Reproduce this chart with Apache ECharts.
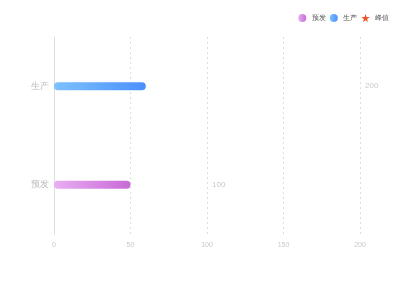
<!DOCTYPE html>
<html><head><meta charset="utf-8">
<script src="https://cdn.jsdelivr.net/npm/echarts@6/dist/echarts.min.js"></script>
<style>html,body{margin:0;padding:0;background:#fff}#c{width:400px;height:300px}</style>
</head><body><div id="c"></div>
<script>
var categories = ['预发', '生产'];
var preValues = [50, '-'];
var prodValues = ['-', 60];
var peakValues = [100, 200];
var xTicks = [0, 50, 100, 150, 200];

var chart = echarts.init(document.getElementById('c'), null, {renderer: 'canvas'});
var star = 'path://M50,0 L61,35 L98,35 L68,57 L79,91 L50,70 L21,91 L32,57 L2,35 L39,35 Z';
chart.setOption({
  animation: false,
  legend: {
    right: 6, top: 9, itemWidth: 9, itemHeight: 8, itemGap: 4,
    textStyle: {fontSize: 7, color: '#555'},
    data: [
      {name: '预发', icon: 'circle'},
      {name: '生产', icon: 'circle'},
      {name: '峰值', icon: star, itemStyle: {color: '#f0522a'}}
    ]
  },
  grid: {left: 54, right: 40, top: 37, bottom: 66},
  xAxis: {
    type: 'value', min: xTicks[0], max: xTicks[xTicks.length - 1], interval: 50,
    axisLine: {show: false}, axisTick: {show: false},
    axisLabel: {fontSize: 7, color: '#c8c8c8', margin: 8},
    splitLine: {show: true, lineStyle: {type: [2, 3], color: '#ddd'}}
  },
  yAxis: {
    type: 'category', data: categories,
    axisLine: {show: true, lineStyle: {color: '#ddd'}},
    axisTick: {show: false},
    axisLabel: {fontSize: 9, color: '#bbb', margin: 5}
  },
  series: [
    {
      name: '预发', type: 'bar', data: preValues, barWidth: 8, barGap: '-100%',
      itemStyle: {
        borderRadius: 4,
        color: new echarts.graphic.LinearGradient(0, 0, 1, 0, [
          {offset: 0, color: '#e9aef2'}, {offset: 1, color: '#c86ad6'}])
      }
    },
    {
      name: '生产', type: 'bar', data: prodValues, barWidth: 8, barGap: '-100%',
      itemStyle: {
        borderRadius: 4,
        color: new echarts.graphic.LinearGradient(0, 0, 1, 0, [
          {offset: 0, color: '#7cc2ff'}, {offset: 1, color: '#4b8ffd'}])
      }
    },
    {
      name: '峰值', type: 'bar', data: peakValues, barWidth: 8, barGap: '-100%', z: 0,
      itemStyle: {color: 'rgba(0,0,0,0)'},
      label: {show: true, position: 'right', distance: 5, fontSize: 8, color: '#c8c8c8'}
    }
  ]
});
</script></body></html>
